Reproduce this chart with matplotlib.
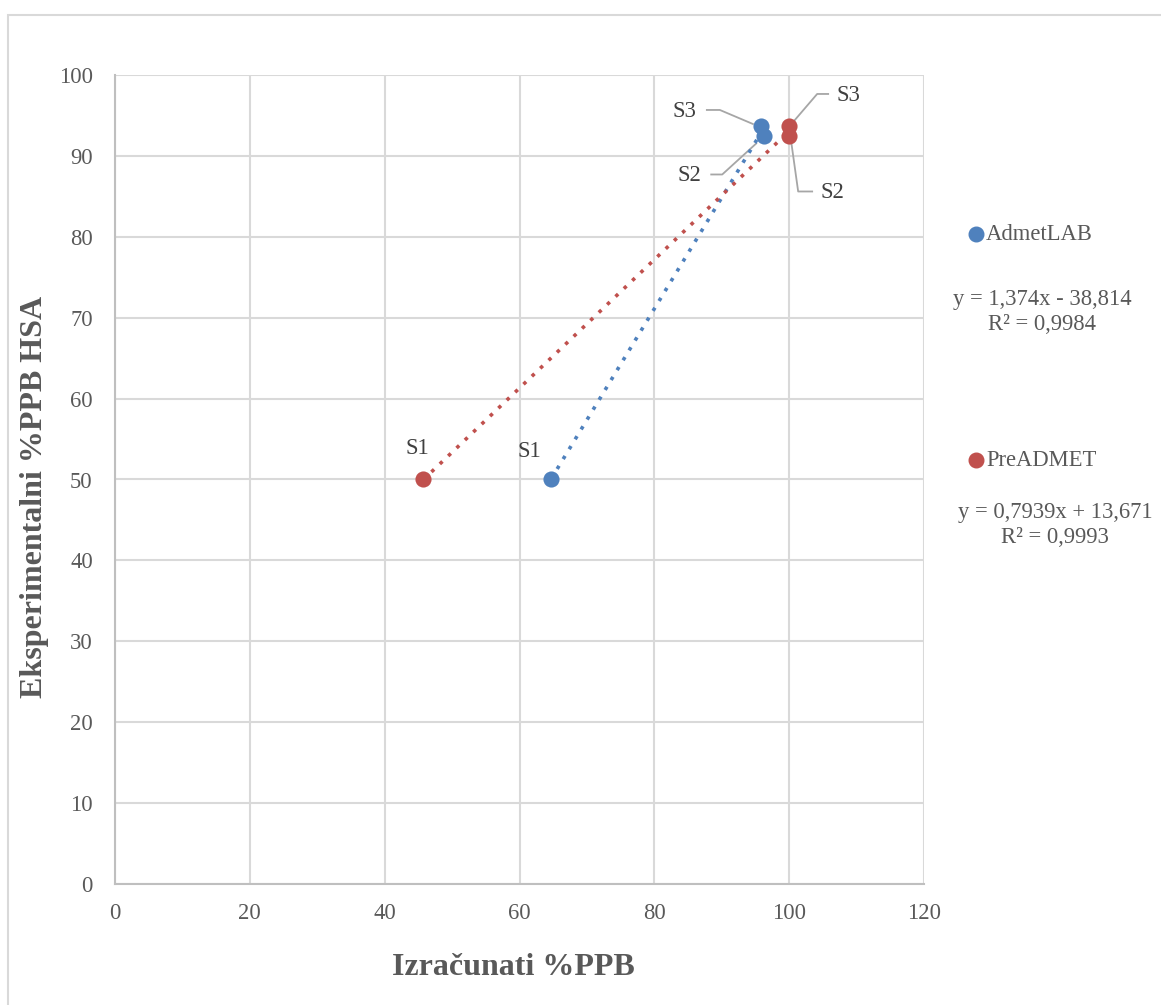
import matplotlib
matplotlib.use("Agg")
import matplotlib.pyplot as plt
from matplotlib.transforms import IdentityTransform
import numpy as np

# ---- data ----
labels = ["S1", "S2", "S3"]
admet_x = [64.7, 96.3, 95.8]
admet_y = [50.0, 92.4, 93.7]
pre_x = [45.7, 100.0, 100.0]
pre_y = [50.0, 92.4, 93.7]
admet_eq = "y = 1,374x - 38,814\nR² = 0,9984"
pre_eq = "y = 0,7939x + 13,671\nR² = 0,9993"
admet_fit = (1.374, -38.814)
pre_fit = (0.7939, 13.671)
x_ticks = [0, 20, 40, 60, 80, 100, 120]
y_ticks = [0, 10, 20, 30, 40, 50, 60, 70, 80, 90, 100]

BLUE = "#4F81BD"
RED = "#C0504D"
TXT = "#595959"
GRID = "#D9D9D9"
LEAD = "#A6A6A6"
FONT = "Liberation Serif"
FS = 16.3

plt.rcParams["font.family"] = [FONT, "DejaVu Serif"]

W, H = 1161, 1005
fig = plt.figure(figsize=(W / 100, H / 100), dpi=100)
fig.patch.set_facecolor("white")
# outer chart border
fig.add_artist(plt.Rectangle((8 / W, -0.01), 1.2, (H - 15) / H + 0.01,
                             transform=fig.transFigure, fill=False,
                             edgecolor=GRID, linewidth=1.5))

ax = fig.add_axes([115 / W, (H - 884) / H, (924 - 115) / W, (884 - 75) / H])
ax.set_xlim(0, 120)
ax.set_ylim(0, 100)
ax.set_xticks(x_ticks)
ax.set_yticks(y_ticks)
ax.grid(True, color=GRID, linewidth=1.5)
ax.set_axisbelow(True)
for s in ["top", "right"]:
    ax.spines[s].set_visible(False)
for s in ["left", "bottom"]:
    ax.spines[s].set_color("#BFBFBF")
    ax.spines[s].set_linewidth(1.5)
ax.tick_params(axis="y", length=0, labelsize=FS, labelcolor=TXT, pad=16)
ax.tick_params(axis="x", length=0, labelsize=FS, labelcolor=TXT, pad=14)
for lab in ax.get_xticklabels() + ax.get_yticklabels():
    lab.set_fontfamily(FONT)

# trendlines
for xs, (m, b), col in [(admet_x, admet_fit, BLUE), (pre_x, pre_fit, RED)]:
    xx = np.linspace(min(xs), max(xs), 50)
    ax.plot(xx, m * xx + b, linestyle=(0, (1, 2.2)), color=col, linewidth=2.6,
            zorder=3)

ax.scatter(admet_x, admet_y, s=135, color=BLUE, zorder=4, linewidths=0)
ax.scatter(pre_x, pre_y, s=135, color=RED, zorder=4, linewidths=0)

fig.canvas.draw()
toD = ax.transData.transform


def leader(x, y, offs):
    px, py = toD((x, y))
    xs = [px + dx for dx, dy in offs]
    ys = [py + dy for dx, dy in offs]
    ax.add_line(plt.Line2D(xs, ys, color=LEAD, linewidth=1.3,
                           transform=IdentityTransform(), zorder=2,
                           clip_on=False))


def label(x, y, text, dx, dy):
    px, py = toD((x, y))
    fig.text(px + dx, py + dy, text, transform=IdentityTransform(),
             fontsize=FS, color="#404040", ha="center", va="center",
             fontfamily=FONT)


# S1 labels
label(admet_x[0], admet_y[0], labels[0], -22, 28)
label(pre_x[0], pre_y[0], labels[0], -6, 31)
# AdmetLAB S3 (left, above)
label(admet_x[2], admet_y[2], labels[2], -76, 14)
leader(admet_x[2], admet_y[2], [(-54, 16), (-41, 16), (-8, 2)])
# AdmetLAB S2 (left, below)
label(admet_x[1], admet_y[1], labels[1], -75, -39)
leader(admet_x[1], admet_y[1], [(-53, -38), (-42, -38), (-8, -7)])
# PreADMET S3 (right, above)
label(pre_x[2], pre_y[2], labels[2], 59, 30)
leader(pre_x[2], pre_y[2], [(39, 32), (28, 32), (4, 4)])
# PreADMET S2 (right, below)
label(pre_x[1], pre_y[1], labels[1], 43, -56)
leader(pre_x[1], pre_y[1], [(23, -55), (9, -55), (2, -5)])

# legend / equations on the right
def ypx(v):
    return (H - v) / H


fig.add_artist(plt.Line2D([976 / W], [ypx(234)], marker="o", markersize=10.5,
                          color=BLUE, transform=fig.transFigure))
fig.text(986 / W, ypx(234), "AdmetLAB", fontsize=FS, color=TXT,
         va="center", ha="left", fontfamily=FONT)
fig.text(1042 / W, ypx(312), admet_eq, fontsize=FS, color=TXT,
         va="center", ha="center", multialignment="center",
         linespacing=1.3, fontfamily=FONT)
fig.add_artist(plt.Line2D([976 / W], [ypx(460)], marker="o", markersize=10.5,
                          color=RED, transform=fig.transFigure))
fig.text(986 / W, ypx(460), "PreADMET", fontsize=FS, color=TXT,
         va="center", ha="left", fontfamily=FONT)
fig.text(1055 / W, ypx(525), pre_eq, fontsize=FS, color=TXT,
         va="center", ha="center", multialignment="center",
         linespacing=1.3, fontfamily=FONT)

# axis titles
fig.text(35 / W, ypx(497), "Eksperimentalni %PPB HSA", rotation=90,
         fontsize=23, fontweight="bold", color=TXT, ha="center",
         va="center", fontfamily=FONT)
fig.text(513 / W, ypx(967), "Izračunati %PPB", fontsize=23,
         fontweight="bold", color=TXT, ha="center", va="center",
         fontfamily=FONT)

fig.savefig("out.png", dpi=100)
